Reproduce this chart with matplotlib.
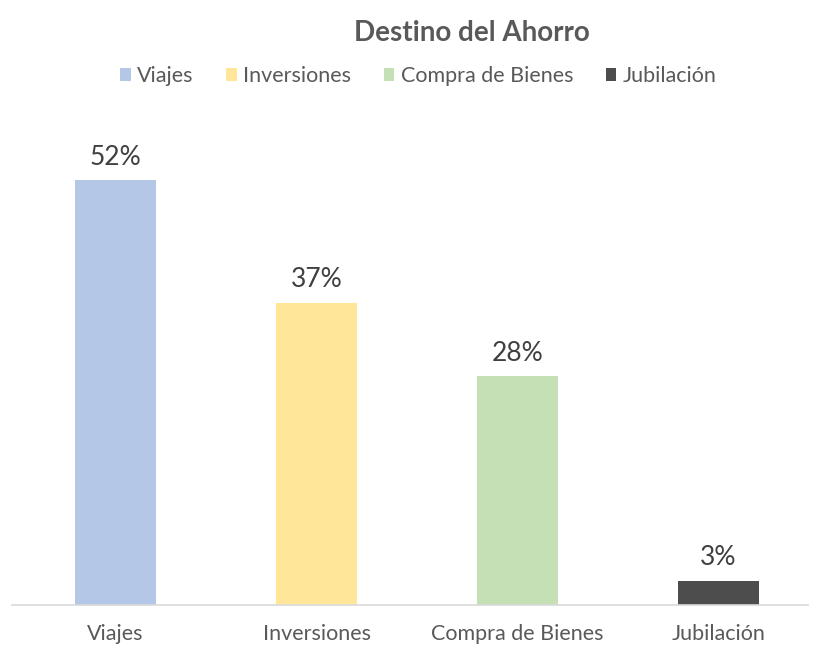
import matplotlib
matplotlib.use("Agg")
import matplotlib.pyplot as plt
from matplotlib.patches import Patch

categories = ["Viajes", "Inversiones", "Compra de Bienes", "Jubilación"]
values = [52, 37, 28, 3]
colors = ["#B4C7E7", "#FFE699", "#C5E0B4", "#4D4D4D"]
title = "Destino del Ahorro"

plt.rcParams["font.family"] = ["Lato", "DejaVu Sans"]
text_color = "#595959"

fig = plt.figure(figsize=(8.17, 6.51), dpi=100)
fig.patch.set_facecolor("white")

# axes span: bottom at baseline, 8.17 px per percent
left_px, right_px = 12, 808
ax = fig.add_axes([left_px / 817, 46 / 651, (right_px - left_px) / 817, 490 / 651])

x = list(range(len(categories)))
bars = ax.bar(x, values, width=0.40, color=colors)

ax.set_xlim(-0.515, 3.445)
ax.set_ylim(0, 60)

for rect, v in zip(bars, values):
    ax.text(rect.get_x() + rect.get_width() / 2, v + 1.3, f"{v}%",
            ha="center", va="bottom", fontsize=19, color="#404040")

ax.set_xticks(x)
ax.set_xticklabels(categories, fontsize=15.5, color=text_color)
ax.tick_params(axis="x", length=0, pad=14)
ax.set_yticks([])
for s in ["top", "right", "left"]:
    ax.spines[s].set_visible(False)
ax.spines["bottom"].set_color("#D9D9D9")
ax.spines["bottom"].set_linewidth(1.2)

fig.text(0.577, 0.950, title, ha="center", va="center",
         fontsize=20, fontweight="bold", color=text_color)

handles = [Patch(facecolor=c, edgecolor="none") for c in colors]
fig.legend(handles, categories, loc="center", bbox_to_anchor=(0.512, 0.883),
           ncol=4, frameon=False, fontsize=15.5, labelcolor=text_color,
           handlelength=0.5, handleheight=0.5, handletextpad=0.3,
           columnspacing=1.5)

fig.savefig("out.png", dpi=100, facecolor="white")
